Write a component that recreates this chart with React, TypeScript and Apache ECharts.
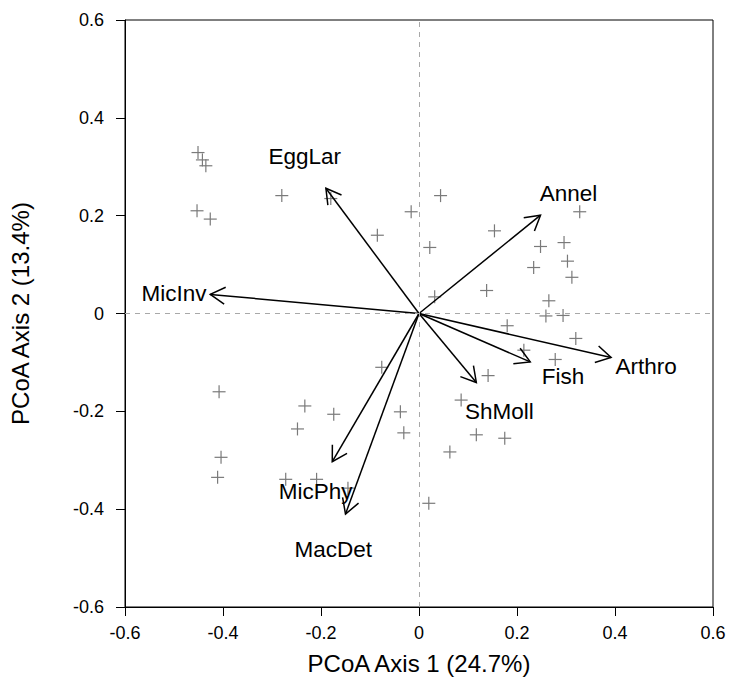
import React, { useEffect, useRef } from "react";
import * as echarts from "echarts";

// Site scores (PCoA axis 1, axis 2)
const pointX = [
  -0.451, -0.442, -0.435, -0.453, -0.426, -0.28, -0.18, -0.085, -0.016, 0.044,
  0.154, 0.022, 0.328, 0.248, 0.296, 0.303, 0.234, 0.312, 0.138, 0.032,
  0.265, 0.259, 0.294, 0.18, 0.32, 0.214, 0.278, 0.141, 0.086, -0.038,
  -0.031, 0.117, 0.175, 0.063, -0.076, -0.408, -0.233, -0.174, -0.248, -0.404,
  -0.411, -0.272, -0.209, -0.145, 0.02,
];
const pointY = [
  0.329, 0.314, 0.302, 0.21, 0.193, 0.241, 0.235, 0.16, 0.208, 0.241,
  0.169, 0.135, 0.208, 0.137, 0.145, 0.107, 0.094, 0.074, 0.047, 0.034,
  0.026, -0.005, -0.004, -0.025, -0.051, -0.075, -0.094, -0.127, -0.177, -0.201,
  -0.244, -0.248, -0.255, -0.283, -0.11, -0.16, -0.189, -0.206, -0.236, -0.294,
  -0.335, -0.339, -0.339, -0.357, -0.388,
];

// Variable vectors
const vectorNames = ["EggLar", "MicInv", "Annel", "Arthro", "Fish", "ShMoll", "MicPhy", "MacDet"];
const vectorX = [-0.19, -0.426, 0.248, 0.392, 0.227, 0.117, -0.177, -0.15];
const vectorY = [0.256, 0.039, 0.201, -0.09, -0.099, -0.141, -0.303, -0.41];
const labelX = [-0.233, -0.5, 0.305, 0.4635, 0.294, 0.164, -0.211, -0.175];
const labelY = [0.3205, 0.041, 0.2457, -0.109, -0.129, -0.201, -0.364, -0.483];

const xTitle = "PCoA Axis 1 (24.7%)";
const yTitle = "PCoA Axis 2 (13.4%)";

const FONT = '"Liberation Sans", Arial, Helvetica, sans-serif';

export default function App() {
  const ref = useRef<HTMLDivElement>(null);

  useEffect(() => {
    document.body.style.margin = "0";
    if (!ref.current) return;
    const chart = echarts.init(ref.current, null, { renderer: "svg" });

    const points = pointX.map((x, i) => [x, pointY[i]]);
    const vectors = vectorX.map((x, i) => [x, vectorY[i], vectorNames[i]]);
    const labels = labelX.map((x, i) => [x, labelY[i], vectorNames[i]]);

    const axisCommon = {
      type: "value" as const,
      min: -0.6,
      max: 0.6,
      interval: 0.2,
      splitLine: { show: false },
      axisLine: { show: true, onZero: false, lineStyle: { color: "#000", width: 1 } },
      axisTick: { show: true, inside: false, length: 9, lineStyle: { color: "#000", width: 1 } },
      nameLocation: "middle" as const,
      nameTextStyle: { fontSize: 24, color: "#000", fontFamily: FONT },
    };

    chart.setOption({
      animation: false,
      backgroundColor: "#fff",
      grid: {
        left: 125,
        right: 16,
        top: 20,
        bottom: 88,
        show: true,
        borderColor: "#000",
        borderWidth: 1,
        backgroundColor: "transparent",
      },
      xAxis: {
        ...axisCommon,
        name: xTitle,
        nameGap: 44,
        axisLabel: { fontSize: 18, color: "#000", margin: 17, fontFamily: FONT },
      },
      yAxis: {
        ...axisCommon,
        name: yTitle,
        nameGap: 93,
        nameRotate: 90,
        axisLabel: { fontSize: 18, color: "#000", margin: 21, fontFamily: FONT },
      },
      series: [
        {
          type: "custom",
          name: "sites",
          data: points,
          encode: { x: 0, y: 1 },
          renderItem: (params: any, api: any) => {
            const p = api.coord([api.value(0), api.value(1)]);
            const s = 6.5;
            const st = { stroke: "#7a7a7a", lineWidth: 1.2 };
            return {
              type: "group",
              children: [
                { type: "line", shape: { x1: p[0] - s, y1: p[1], x2: p[0] + s, y2: p[1] }, style: st },
                { type: "line", shape: { x1: p[0], y1: p[1] - s, x2: p[0], y2: p[1] + s }, style: st },
              ],
            };
          },
          markLine: {
            silent: true,
            symbol: ["none", "none"],
            label: { show: false },
            lineStyle: { color: "#a8a8a8", width: 1, type: [5, 5] },
            data: [{ xAxis: 0 }, { yAxis: 0 }],
          },
          z: 2,
        },
        {
          type: "custom",
          name: "vectors",
          data: vectors,
          encode: { x: 0, y: 1 },
          renderItem: (params: any, api: any) => {
            const o = api.coord([0, 0]);
            const t = api.coord([api.value(0), api.value(1)]);
            const a = Math.atan2(t[1] - o[1], t[0] - o[0]);
            const L = 17;
            const h = Math.PI / 6;
            const p1 = [t[0] - L * Math.cos(a - h), t[1] - L * Math.sin(a - h)];
            const p2 = [t[0] - L * Math.cos(a + h), t[1] - L * Math.sin(a + h)];
            const st = { stroke: "#000", lineWidth: 1.5, fill: "none" };
            return {
              type: "group",
              children: [
                { type: "line", shape: { x1: o[0], y1: o[1], x2: t[0], y2: t[1] }, style: st },
                { type: "polyline", shape: { points: [p1, t, p2] }, style: st },
              ],
            };
          },
          z: 3,
        },
        {
          type: "custom",
          name: "labels",
          data: labels,
          encode: { x: 0, y: 1 },
          renderItem: (params: any, api: any) => {
            const p = api.coord([api.value(0), api.value(1)]);
            return {
              type: "text",
              x: p[0],
              y: p[1],
              style: {
                text: labels[params.dataIndex][2],
                fontSize: 22.5,
                fontFamily: FONT,
                fill: "#000",
                align: "center",
                verticalAlign: "middle",
              },
            };
          },
          z: 4,
        },
      ],
    });

    return () => chart.dispose();
  }, []);

  return <div ref={ref} style={{ width: 729, height: 695 }} />;
}
